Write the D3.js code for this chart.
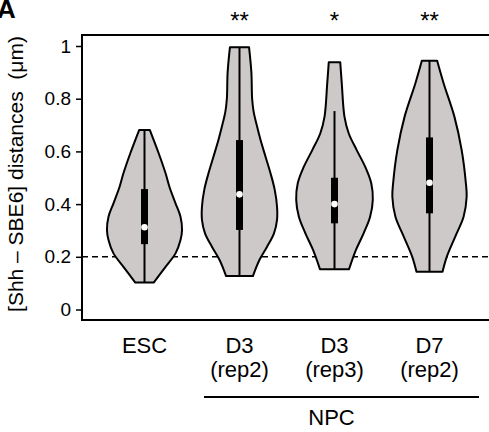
<!DOCTYPE html>
<html>
<head>
<meta charset="utf-8">
<script src="https://cdn.jsdelivr.net/npm/d3@7"></script>
<style>
  body { margin: 0; background: #fff; }
  text { font-family: "Liberation Sans", Arial, sans-serif; fill: #000; }
</style>
</head>
<body>
<svg id="chart" width="489" height="432"></svg>
<script>
// groups and labels
const groups = ["ESC", "D3 (rep2)", "D3 (rep3)", "D7 (rep2)"];
const labelTop = ["ESC", "D3", "D3", "D7"];
const labelBottom = ["", "(rep2)", "(rep3)", "(rep2)"];
const stars = ["", "**", "*", "**"];
const yTicks = [0, 0.2, 0.4, 0.6, 0.8, 1];

// box stats (um)
const whiskerLow = [0.102, 0.127, 0.153, 0.143];
const whiskerHigh = [0.681, 0.995, 0.753, 0.944];
const q1 = [0.248, 0.302, 0.327, 0.365];
const q3 = [0.457, 0.643, 0.5, 0.653];
const median = [0.312, 0.437, 0.4, 0.481];

// violin outlines: [distance, relative density]
const densESC = [[0.102, 0.24], [0.162, 0.55], [0.213, 0.81], [0.264, 0.94], [0.302, 0.98],
  [0.352, 0.94], [0.403, 0.81], [0.466, 0.65], [0.517, 0.55], [0.593, 0.37], [0.681, 0.14]];
const densRep2 = [[0.127, 0.35], [0.188, 0.52], [0.238, 0.72], [0.289, 0.9], [0.34, 0.98],
  [0.39, 0.98], [0.454, 0.92], [0.517, 0.81], [0.58, 0.68], [0.643, 0.55], [0.694, 0.46],
  [0.75, 0.37], [0.8, 0.33], [0.9, 0.31], [0.995, 0.25]];
const densRep3 = [[0.153, 0.38], [0.226, 0.56], [0.289, 0.76], [0.352, 0.93], [0.416, 1.0],
  [0.479, 0.96], [0.542, 0.8], [0.605, 0.58], [0.669, 0.37], [0.732, 0.26], [0.858, 0.19],
  [0.938, 0.15]];
const densD7 = [[0.143, 0.34], [0.2, 0.45], [0.276, 0.67], [0.352, 0.89], [0.428, 0.97],
  [0.479, 0.95], [0.605, 0.84], [0.732, 0.65], [0.858, 0.37], [0.944, 0.2]];
const densities = [densESC, densRep2, densRep3, densD7];

const svg = d3.select("#chart");
const frame = { left: 82, top: 35, right: 492, bottom: 320 };

const x = d3.scaleBand().domain(groups).range([97, 477]);
const y = d3.scaleLinear().domain([0, 1]).range([309.5, 46]);
const w = d3.scaleLinear().domain([0, 1]).range([0, 38.3]);
const cx = (i) => x(groups[i]) + x.bandwidth() / 2;

// panel letter (cut by the left edge, as in the figure)
svg.append("text").attr("x", -3).attr("y", 17.5)
  .style("font-size", "26px").style("font-weight", "bold").text("A");

// threshold line
svg.append("line")
  .attr("x1", frame.left).attr("x2", frame.right)
  .attr("y1", y(0.2)).attr("y2", y(0.2))
  .attr("stroke", "#000").attr("stroke-width", 1.5).attr("stroke-dasharray", "6,4");

// violins
groups.forEach((g, i) => {
  const c = cx(i);
  const area = d3.area()
    .y((d) => y(d[0]))
    .x0((d) => c - w(d[1]))
    .x1((d) => c + w(d[1]))
    .curve(d3.curveCatmullRom);
  svg.append("path").attr("d", area(densities[i]))
    .attr("fill", "#cdc9c9").attr("stroke", "#000").attr("stroke-width", 2)
    .attr("stroke-linejoin", "round");
  svg.append("line").attr("x1", c).attr("x2", c)
    .attr("y1", y(whiskerLow[i])).attr("y2", y(whiskerHigh[i]))
    .attr("stroke", "#000").attr("stroke-width", 2);
  svg.append("rect").attr("x", c - 3.5).attr("width", 7)
    .attr("y", y(q3[i])).attr("height", y(q1[i]) - y(q3[i])).attr("fill", "#000");
  svg.append("circle").attr("cx", c).attr("cy", y(median[i])).attr("r", 3.3).attr("fill", "#fff");
  svg.append("text").attr("x", c).attr("y", 28.5).attr("text-anchor", "middle")
    .style("font-size", "24px").text(stars[i]);
  svg.append("text").attr("x", c).attr("y", 353).attr("text-anchor", "middle")
    .style("font-size", "22px").text(labelTop[i]);
  svg.append("text").attr("x", c).attr("y", 377).attr("text-anchor", "middle")
    .style("font-size", "22px").text(labelBottom[i]);
});

// frame
svg.append("rect")
  .attr("x", frame.left).attr("y", frame.top)
  .attr("width", frame.right - frame.left).attr("height", frame.bottom - frame.top)
  .attr("fill", "none").attr("stroke", "#000").attr("stroke-width", 2);

// y axis
const yAxis = svg.append("g").attr("transform", `translate(${frame.left},0)`)
  .call(d3.axisLeft(y).tickValues(yTicks).tickFormat(d3.format("")).tickSize(6).tickPadding(5));
yAxis.attr("font-size", 19).attr("font-family", "Liberation Sans, Arial, sans-serif");
yAxis.select(".domain").remove();
yAxis.selectAll(".tick line").attr("stroke-width", 1.5);
yAxis.selectAll(".tick text").style("font-size", "19px");

svg.append("text")
  .attr("transform", "translate(22.5,174) rotate(-90)")
  .attr("text-anchor", "middle").style("font-size", "21px").style("white-space", "pre")
  .text("[Shh \u2013 SBE6] distances  (\u03bcm)");

// NPC bracket
svg.append("line").attr("x1", 204).attr("x2", 479).attr("y1", 397).attr("y2", 397)
  .attr("stroke", "#000").attr("stroke-width", 2);
svg.append("text").attr("x", (cx(1) + cx(3)) / 2 - 3).attr("y", 425)
  .attr("text-anchor", "middle").style("font-size", "22px").text("NPC");
</script>
</body>
</html>
